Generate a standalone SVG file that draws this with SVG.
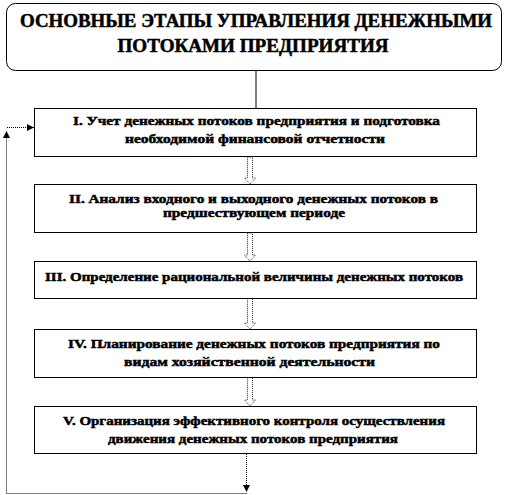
<svg xmlns="http://www.w3.org/2000/svg" width="508" height="495" viewBox="0 0 508 495">
<defs>
<style>
text{font-family:'Liberation Serif','Times New Roman','DejaVu Serif',serif}
.t{font-weight:bold;fill:#000;text-anchor:middle;stroke:#000;stroke-width:0.5}
.title{font-size:18px}
.bt{font-size:13px}
.box{fill:#fff;stroke:#000;stroke-width:1}
.dot{fill:none;stroke:#000;stroke-width:1;stroke-dasharray:1 1}
.hol{fill:#fff;stroke:#000;stroke-width:0.8;stroke-dasharray:1 1}
</style>
<marker id="ah" viewBox="0 0 10 10" refX="10" refY="5" markerWidth="7" markerHeight="7" orient="auto" markerUnits="userSpaceOnUse">
<path d="M0,0 L10,5 L0,10 Z" fill="#000"/>
</marker>
</defs>
<rect width="508" height="495" fill="#fff"/>
<g id="title">
<rect x="6.5" y="3.5" width="495" height="67" rx="9" ry="9" fill="#fff" stroke="#000" stroke-width="1"/>
<text class="t title" x="256" y="27" textLength="472" lengthAdjust="spacingAndGlyphs">ОСНОВНЫЕ ЭТАПЫ УПРАВЛЕНИЯ ДЕНЕЖНЫМИ</text>
<text class="t title" x="253" y="52" textLength="271" lengthAdjust="spacingAndGlyphs">ПОТОКАМИ ПРЕДПРИЯТИЯ</text>
</g>
<g id="connectors">
<line x1="256" y1="71" x2="256" y2="108" stroke="#000" stroke-width="1"/>
<polygon class="hol" points="247.5,157 252.5,157 252.5,178 255.5,178 250,184 244.5,178 247.5,178"/>
<polygon class="hol" points="247.5,233 252.5,233 252.5,255 255.5,255 250,261 244.5,255 247.5,255"/>
<polygon class="hol" points="247.5,298 252.5,298 252.5,323 255.5,323 250,329 244.5,323 247.5,323"/>
<polygon class="hol" points="247.5,377 252.5,377 252.5,400 255.5,400 250,406 244.5,400 247.5,400"/>
<line class="dot" x1="246.5" y1="454" x2="246.5" y2="492" marker-end="url(#ah)"/>
<polyline class="dot" points="246.5,493.5 6.5,493.5 6.5,131" marker-end="url(#ah)"/>
<line class="dot" x1="7" y1="127.5" x2="34" y2="127.5" marker-end="url(#ah)"/>
</g>
<g id="step1">
<rect class="box" x="34.5" y="108.5" width="442" height="48"/>
<text class="t bt" x="256.5" y="124.5" textLength="367" lengthAdjust="spacingAndGlyphs">I. Учет денежных потоков предприятия и подготовка</text>
<text class="t bt" x="255" y="143" textLength="260" lengthAdjust="spacingAndGlyphs">необходимой финансовой отчетности</text>
</g>
<g id="step2">
<rect class="box" x="34.5" y="184.5" width="442" height="48"/>
<text class="t bt" x="253.5" y="202.5" textLength="369" lengthAdjust="spacingAndGlyphs">II. Анализ входного и выходного денежных потоков в</text>
<text class="t bt" x="254" y="216.5" textLength="182" lengthAdjust="spacingAndGlyphs">предшествующем  периоде</text>
</g>
<g id="step3">
<rect class="box" x="34.5" y="261.5" width="442" height="37"/>
<text class="t bt" x="254" y="281" textLength="418" lengthAdjust="spacingAndGlyphs">III. Определение рациональной величины денежных потоков</text>
</g>
<g id="step4">
<rect class="box" x="34.5" y="329.5" width="442" height="48"/>
<text class="t bt" x="254" y="347.5" textLength="372" lengthAdjust="spacingAndGlyphs">IV. Планирование денежных потоков предприятия по</text>
<text class="t bt" x="249.5" y="366" textLength="251" lengthAdjust="spacingAndGlyphs">видам хозяйственной деятельности</text>
</g>
<g id="step5">
<rect class="box" x="34.5" y="406.5" width="442" height="47"/>
<text class="t bt" x="254" y="424.5" textLength="382" lengthAdjust="spacingAndGlyphs">V. Организация эффективного контроля осуществления</text>
<text class="t bt" x="253" y="443" textLength="290" lengthAdjust="spacingAndGlyphs">движения денежных потоков предприятия</text>
</g>
</svg>
